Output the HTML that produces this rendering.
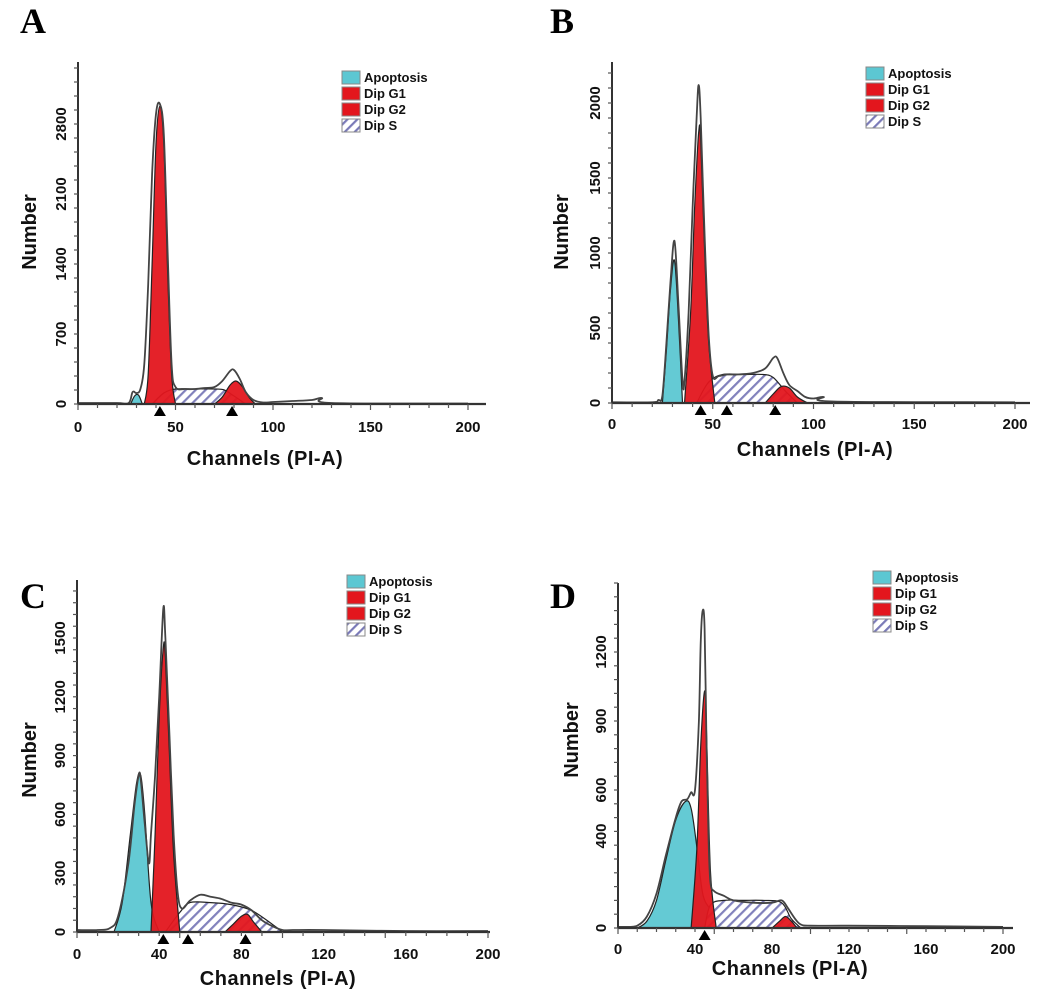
<!DOCTYPE html>
<html><head><meta charset="utf-8"><style>
body{margin:0;background:#fff;}
svg{display:block;font-family:"Liberation Sans",sans-serif;}
.tk{font-weight:bold;font-size:15px;fill:#111;}
.ttl{font-weight:bold;font-size:20px;fill:#111;}
.lg{font-weight:bold;font-size:13px;fill:#111;}
.let{font-family:"Liberation Serif",serif;font-weight:bold;font-size:36px;fill:#000;}
</style></head><body>
<svg id="fig" width="1046" height="997" viewBox="0 0 1046 997">
<defs>
<pattern id="hatch" patternUnits="userSpaceOnUse" width="7" height="7" patternTransform="rotate(45)">
<rect width="7" height="7" fill="#fff"/><rect width="2.2" height="7" fill="#7a7ab8"/>
</pattern>
</defs>
</svg>
<script>
// ---- Panel A data ----
const A_apoX=[27,29,31,33], A_apoY=[0,80,90,0];
const A_g1X=[34,36,38,40,42,44,46,48,50], A_g1Y=[0,300,1400,2600,2980,2600,1300,300,0];
const A_sX=[38,44,50,60,70,75,80,86], A_sY=[0,110,150,150,150,140,80,0];
const A_g2X=[70,74,78,81,84,88,91], A_g2Y=[0,70,190,230,180,60,0];
const A_envX=[0,20,26,28,30,32,34,36,38,40,42,44,46,48,50,55,60,65,70,74,78,80,83,86,90,95,100,110,120,125,130,200];
const A_envY=[10,10,10,120,110,150,400,1200,2300,2900,3000,2700,1500,400,170,150,150,160,170,230,330,340,250,120,40,15,20,30,40,60,10,5];
const A_marks=[42,79];
const A_yTicks=[0,700,1400,2100,2800], A_xTicks=[0,50,100,150,200];
// ---- Panel B data ----
const B_apoX=[25,27,29,31,33,35], B_apoY=[0,350,750,950,550,0];
const B_g1X=[36,39,41,43,44,46,48,51], B_g1Y=[0,600,1300,1800,1750,1000,400,0];
const B_sX=[42,48,55,65,75,80,86,92], B_sY=[0,140,190,190,190,170,80,0];
const B_g2X=[76,80,84,88,92,97], B_g2Y=[0,60,110,100,40,0];
const B_envX=[0,20,23,25,27,29,31,33,35,36,38,40,42,43,44,46,48,50,53,57,62,70,76,80,82,85,88,92,96,100,105,110,200];
const B_envY=[5,5,20,50,400,800,1080,650,150,150,600,1300,1900,2120,1900,1100,450,180,180,190,190,200,230,300,300,200,120,80,40,30,40,10,5];
const B_marks=[44,57,81];
const B_yTicks=[0,500,1000,1500,2000], B_xTicks=[0,50,100,150,200];
// ---- Panel C data ----
const C_apoX=[18,22,26,29,31,33,36,40], C_apoY=[0,150,500,760,800,600,150,0];
const C_g1X=[36,38,40,42,43,45,47,50], C_g1Y=[0,500,1100,1450,1400,900,400,0];
const C_sX=[43,50,55,65,75,85,95,100], C_sY=[0,100,150,150,140,110,40,0];
const C_g2X=[72,76,80,83,86,90], C_g2Y=[0,40,80,90,50,0];
const C_envX=[0,10,16,20,25,28,30,31,33,35,36,38,40,42,43,45,47,49,51,55,60,65,70,75,80,85,90,95,100,105,120,160,200];
const C_envY=[10,10,20,80,350,650,800,780,550,350,500,800,1200,1650,1500,1000,500,200,120,160,190,180,170,150,140,110,60,30,10,10,10,5,5];
const C_marks=[42,54,82];
const C_yTicks=[0,300,600,900,1200,1500], C_xTicks=[0,40,80,120,160,200];
// ---- Panel D data ----
const D_apoX=[10,15,20,25,30,35,38,41,44,48,52,55], D_apoY=[0,30,120,300,470,550,520,350,150,80,30,0];
const D_g1X=[38,41,43,45,46,48,51], D_g1Y=[0,350,800,1030,850,250,0];
const D_sX=[45,48,55,65,75,85,90,95], D_sY=[0,100,120,120,120,110,40,0];
const D_g2X=[80,84,87,90,93], D_g2Y=[0,30,50,30,0];
const D_envX=[0,5,10,15,20,25,30,33,36,38,40,42,43,44,45,46,47,48,50,55,60,70,80,85,88,92,95,100,120,160,200];
const D_envY=[5,5,10,50,150,320,480,550,560,590,600,900,1250,1380,1300,800,400,200,160,140,120,110,110,120,90,40,15,10,10,8,5];
const D_marks=[45];
const D_yTicks=[0,400,600,900,1200], D_xTicks=[0,40,80,120,160,200];

const NS='http://www.w3.org/2000/svg';
const svg=document.getElementById('fig');
function mk(tag,attrs,parent){const e=document.createElementNS(NS,tag);for(const k in attrs)e.setAttribute(k,attrs[k]);(parent||svg).appendChild(e);return e;}
function smooth(pts){let d='M'+pts[0][0]+','+pts[0][1];for(let i=0;i<pts.length-1;i++){const p0=pts[i-1]||pts[i],p1=pts[i],p2=pts[i+1],p3=pts[i+2]||p2;
const c1x=p1[0]+(p2[0]-p0[0])/6,c1y=p1[1]+(p2[1]-p0[1])/6,c2x=p2[0]-(p3[0]-p1[0])/6,c2y=p2[1]-(p3[1]-p1[1])/6;
d+=` C${c1x.toFixed(1)},${c1y.toFixed(1)} ${c2x.toFixed(1)},${c2y.toFixed(1)} ${p2[0].toFixed(1)},${p2[1].toFixed(1)}`;}return d;}

function panel(cfg){
  const g=mk('g',{});
  
  
  const X=v=>cfg.x0+(v-0)*(cfg.x1-cfg.x0)/200;
  const Y=v=>cfg.y0-v*cfg.ys;
  const pts=(xs,ys)=>xs.map((x,i)=>[X(x),Y(Math.min(ys[i],cfg.ymax))]);
  function area(xs,ys,fill,name){const p=mk('path',{d:smooth(pts(xs,ys))+'Z',fill:fill,stroke:'#222','stroke-width':1.2,'fill-opacity':0.95},g);
    }
  area(cfg.apoX,cfg.apoY,'#5cc7d2','apoptosis-area');
  area(cfg.sX,cfg.sY,'url(#hatch)','dip-s-area');
  area(cfg.g1X,cfg.g1Y,'#e3161d','dip-g1-area');
  area(cfg.g2X,cfg.g2Y,'#e3161d','dip-g2-area');
  const env=mk('path',{d:smooth(pts(cfg.envX,cfg.envY)),fill:'none',stroke:'#444','stroke-width':1.8},g);
  
  const ya=mk('line',{x1:cfg.x0,y1:cfg.ytop,x2:cfg.x0,y2:cfg.y0,stroke:'#333','stroke-width':2},g);
  
  const xa=mk('line',{x1:cfg.x0,y1:cfg.y0,x2:cfg.xend,y2:cfg.y0,stroke:'#333','stroke-width':2.2},g);
  
  for(let v=0;Y(v)>=cfg.ytop;v+=cfg.ymin){mk('line',{x1:cfg.x0-4,y1:Y(v),x2:cfg.x0,y2:Y(v),stroke:'#555','stroke-width':1.2},g);}
  for(let v=0;X(v)<=cfg.xend;v+=10){mk('line',{x1:X(v),y1:cfg.y0,x2:X(v),y2:cfg.y0+(v%50===0?6:4),stroke:'#555','stroke-width':1.2},g);}
  cfg.yTicks.forEach(v=>{const t=mk('text',{class:'tk','text-anchor':'middle',transform:`translate(${cfg.x0-12},${Y(v)}) rotate(-90)`},g);t.textContent=v;
    });
  cfg.xTicks.forEach(v=>{const t=mk('text',{class:'tk','text-anchor':'middle',x:X(v),y:cfg.y0+cfg.xlo},g);t.textContent=v;
    });
  cfg.marks.forEach(v=>{const m=mk('path',{d:`M${X(v)-6},${cfg.y0+12} L${X(v)+6},${cfg.y0+12} L${X(v)},${cfg.y0+2} Z`,fill:'#000'},g);
    });
  const yt=mk('text',{class:'ttl','text-anchor':'middle',transform:`translate(${cfg.ytx},${cfg.yty}) rotate(-90)`},g);yt.textContent='Number';
  
  const xt=mk('text',{class:'ttl','text-anchor':'middle',x:cfg.xtx,y:cfg.xty,'letter-spacing':'0.5'},g);xt.textContent='Channels (PI-A)';
  
  const L=mk('text',{class:'let',x:cfg.lx,y:cfg.ly},g);L.textContent=cfg.id;
  
  const labels=['Apoptosis','Dip G1','Dip G2','Dip S'],fills=['#5cc7d2','#e3161d','#e3161d','url(#hatch)'];
  const lg=mk('g',{},g);
  labels.forEach((s,i)=>{const yy=cfg.legY+i*16;
    const r=mk('rect',{x:cfg.legX,y:yy,width:18,height:13,fill:fills[i],stroke:'#888','stroke-width':1},lg);
    
    const t=mk('text',{class:'lg',x:cfg.legX+22,y:yy+11},lg);t.textContent=s;
    });
}
panel({id:'A',x0:78,x1:468,xend:486,y0:404,ytop:62,ys:0.1,ymin:140,ymax:3000,xlo:28,
  apoX:A_apoX,apoY:A_apoY,g1X:A_g1X,g1Y:A_g1Y,sX:A_sX,sY:A_sY,g2X:A_g2X,g2Y:A_g2Y,envX:A_envX,envY:A_envY,marks:A_marks,yTicks:A_yTicks,xTicks:A_xTicks,
  ytx:36,yty:232,xtx:265,xty:465,lx:20,ly:33,legX:342,legY:71});
panel({id:'B',x0:612,x1:1015,xend:1030,y0:403,ytop:62,ys:0.15,ymin:100,ymax:2150,xlo:26,
  apoX:B_apoX,apoY:B_apoY,g1X:B_g1X,g1Y:B_g1Y,sX:B_sX,sY:B_sY,g2X:B_g2X,g2Y:B_g2Y,envX:B_envX,envY:B_envY,marks:B_marks,yTicks:B_yTicks,xTicks:B_xTicks,
  ytx:568,yty:232,xtx:815,xty:456,lx:550,ly:33,legX:866,legY:67});
panel({id:'C',x0:77,x1:488,xend:490,y0:932,ytop:580,ys:0.196,ymin:60,ymax:1700,xlo:27,
  apoX:C_apoX,apoY:C_apoY,g1X:C_g1X,g1Y:C_g1Y,sX:C_sX,sY:C_sY,g2X:C_g2X,g2Y:C_g2Y,envX:C_envX,envY:C_envY,marks:C_marks,yTicks:C_yTicks,xTicks:C_xTicks,
  ytx:36,yty:760,xtx:278,xty:985,lx:20,ly:608,legX:347,legY:575});
panel({id:'D',x0:618,x1:1003,xend:1013,y0:928,ytop:583,ys:0.23,ymin:60,ymax:1400,xlo:26,
  apoX:D_apoX,apoY:D_apoY,g1X:D_g1X,g1Y:D_g1Y,sX:D_sX,sY:D_sY,g2X:D_g2X,g2Y:D_g2Y,envX:D_envX,envY:D_envY,marks:D_marks,yTicks:D_yTicks,xTicks:D_xTicks,
  ytx:578,yty:740,xtx:790,xty:975,lx:550,ly:608,legX:873,legY:571});
</script>
</body></html>
